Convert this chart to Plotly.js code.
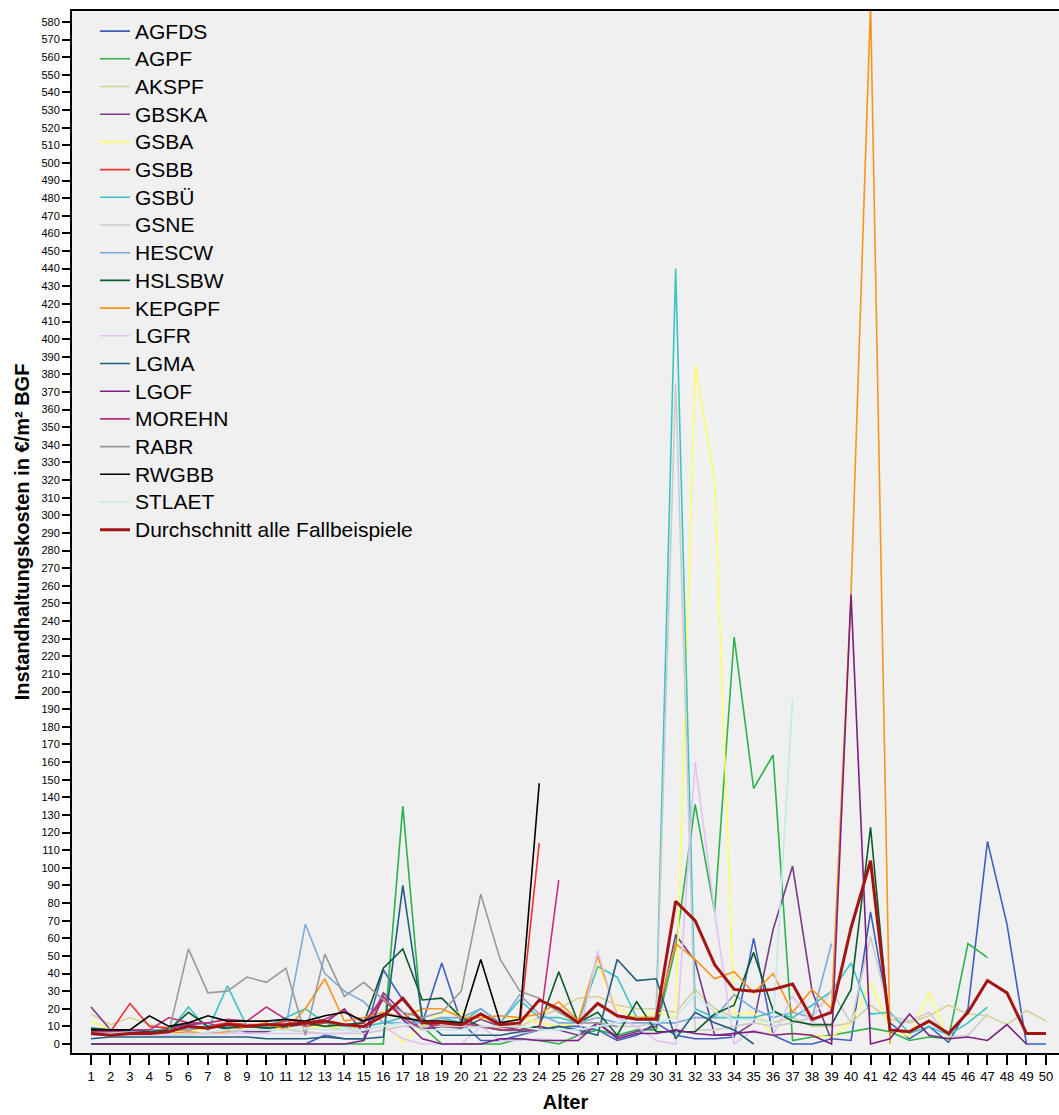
<!DOCTYPE html>
<html>
<head>
<meta charset="utf-8">
<script src="https://cdn.plot.ly/plotly-3.0.1.min.js"></script>
<style>html,body{margin:0;padding:0;background:#fff;}#chart{width:1059px;height:1115px;}</style>
</head>
<body>
<div id="chart"></div>
<script>
const ages = [1,2,3,4,5,6,7,8,9,10,11,12,13,14,15,16,17,18,19,20,21,22,23,24,25,26,27,28,29,30,31,32,33,34,35,36,37,38,39,40,41,42,43,44,45,46,47,48,49,50];
const tickLabelsX = ages.map(String);

const AGFDS = [0,0,0,0,0,0,0,0,0,0,0,0,5,3,3,42,25,12,46,12,2,2,5,8,10,10,8,2,5,12,5,3,3,4,60,5,0,0,3,2,75,12,3,10,1,20,115,68,0,0];
const AGPF = [0,0,0,0,0,0,0,0,0,0,0,0,0,0,0,0,135,10,0,0,0,0,3,2,0,5,8,5,8,8,55,136,75,231,145,164,2,4,5,7,9,7,2,4,3,57,49,null,null,null];
const AKSPF = [17,11,15,11,9,9,10,12,10,10,9,12,10,8,10,12,12,10,14,12,10,9,10,15,20,26,27,22,20,20,18,31,20,15,15,12,15,10,10,12,22,14,12,16,22,17,16,11,19,13];
const GBSKA = [21,8,8,7,9,11,12,8,7,7,10,11,12,20,6,29,18,8,10,9,14,10,8,10,8,5,12,4,7,10,62,47,5,5,12,65,101,30,2,null,null,null,null,null,null,null,null,null,null,null];
const GSBA = [13,8,6,6,7,7,9,12,11,10,8,9,10,10,10,12,1,10,18,18,15,12,15,12,10,12,45,20,15,18,15,385,320,17,18,5,6,5,4,12,35,9,4,29,2,null,null,null,null,null];
const GSBB = [7,7,23,10,9,8,10,12,11,11,13,10,12,10,12,25,15,12,10,10,17,10,10,114,null,null,null,null,null,null,null,null,null,null,null,null,null,null,null,null,null,null,null,null,null,null,null,null,null,null];
const GSBUE = [5,5,6,6,7,21,8,33,10,10,15,20,12,10,10,12,15,12,15,12,20,12,25,15,15,12,44,38,15,15,440,20,15,15,15,18,15,22,30,46,17,18,6,10,5,12,21,null,null,null];
const GSNE = [5,5,5,5,5,5,6,6,8,8,8,7,6,6,6,8,10,10,10,10,10,8,6,8,10,8,10,10,10,12,375,8,8,10,12,10,12,15,30,12,61,16,13,18,4,5,17,null,null,null];
const HESCW = [8,7,7,8,8,8,10,10,10,9,10,68,40,30,24,12,12,12,15,15,20,12,28,17,12,12,15,12,12,12,12,15,15,28,20,15,18,15,57,null,null,null,null,null,null,null,null,null,null,null];
const HSLSBW = [9,8,8,7,8,18,10,9,10,9,10,12,10,11,12,43,54,25,26,15,10,8,8,10,41,12,18,5,24,7,7,7,17,22,52,19,13,11,11,31,123,5,null,null,null,null,null,null,null,null];
const KEPGPF = [5,5,6,6,6,7,6,7,10,12,8,20,37,13,15,18,15,20,20,15,15,16,15,17,24,13,50,16,15,15,57,48,37,41,29,40,18,31,20,256,590,0,null,null,null,null,null,null,null,null];
const LGFR = [5,5,5,5,5,6,6,6,6,6,6,6,6,6,8,10,3,0,0,0,10,2,2,3,2,2,53,15,10,2,0,160,75,0,8,5,27,12,20,null,null,null,null,null,null,null,null,null,null,null];
const LGMA = [3,4,4,4,4,4,4,4,4,3,3,3,4,3,3,4,90,15,5,5,5,5,7,8,10,8,5,48,36,37,3,18,12,8,0,null,null,null,null,null,null,null,null,null,null,null,null,null,null,null];
const LGOF = [0,0,0,0,0,0,0,0,0,0,0,0,0,0,2,27,14,3,0,0,0,3,3,2,2,2,12,3,6,6,8,6,5,6,7,5,6,5,0,255,0,3,17,5,3,4,2,11,0,null];
const MOREHN = [7,7,8,8,15,12,12,14,13,21,14,12,14,19,12,27,15,8,12,12,10,8,8,8,93,null,null,null,null,null,null,null,null,null,null,null,null,null,null,null,null,null,null,null,null,null,null,null,null,null];
const RABR = [6,6,6,6,7,54,29,30,38,35,43,5,51,27,35,25,18,15,18,30,85,48,30,26,18,12,12,10,null,null,null,null,null,null,null,null,null,null,null,null,null,null,null,null,null,null,null,null,null,null];
const RWGBB = [8,8,8,16,10,12,16,13,13,13,14,13,16,18,13,17,15,13,13,12,48,12,14,148,null,null,null,null,null,null,null,null,null,null,null,null,null,null,null,null,null,null,null,null,null,null,null,null,null,null];
const STLAET = [6,6,6,6,6,5,7,8,8,8,8,9,8,8,8,10,12,8,8,8,10,10,10,8,8,8,10,12,15,12,15,28,18,14,14,12,196,null,null,null,null,null,null,null,null,null,null,null,null,null];
const AVG = [6,5,6,6,7,10,9,11,10,11,11,12,13,11,10,16,26,12,12,11,17,11,12,25,20,12,23,16,14,14,81,70,45,31,30,31,34,14,18,66,104,8,7,13,6,18,36,29,6,6];

const seriesNames = ["AGFDS","AGPF","AKSPF","GBSKA","GSBA","GSBB","GSBÜ","GSNE","HESCW","HSLSBW","KEPGPF","LGFR","LGMA","LGOF","MOREHN","RABR","RWGBB","STLAET","Durchschnitt alle Fallbeispiele"];
const seriesData = [AGFDS,AGPF,AKSPF,GBSKA,GSBA,GSBB,GSBUE,GSNE,HESCW,HSLSBW,KEPGPF,LGFR,LGMA,LGOF,MOREHN,RABR,RWGBB,STLAET,AVG];
const colors = ["#3f5fbf","#2bb34a","#d6d19c","#7a3a8a","#ffff66","#ee3333","#3cc4c4","#cccccc","#7faad9","#0c5a2c","#f7941d","#e0c4f2","#1f5f7c","#7d1f80","#c0307e","#999999","#000000","#c4e9e9","#a31414"];

const traces = seriesNames.map((n, i) => ({
  x: ages, y: seriesData[i], name: '<span style="font-size:21px">' + n + '</span>',
  type: "scatter", mode: "lines",
  line: {color: colors[i], width: i === 18 ? 3 : 1.6},
  connectgaps: false, hoverinfo: "skip"
}));

const fontFam = "Liberation Sans, Arial, sans-serif";
const yticks = [];
for (let v = 0; v <= 580; v += 10) yticks.push(v);

const layout = {
  width: 1059, height: 1115,
  margin: {l: 72, r: 0, t: 11, b: 62},
  paper_bgcolor: "#ffffff", plot_bgcolor: "#f0f0f0",
  font: {family: fontFam, color: "#000"},
  showlegend: true,
  legend: {x: 0.0233, y: 0.9988, xanchor: "left", yanchor: "top", bgcolor: "rgba(0,0,0,0)",
    font: {size: 19, family: fontFam}, itemwidth: 30},
  xaxis: {range: [0.025, 50.67], tickmode: "array", tickvals: ages, ticktext: tickLabelsX,
    ticks: "outside", ticklen: 10, tickwidth: 2, tickcolor: "#000", showgrid: false, zeroline: false,
    showline: true, linecolor: "#000", linewidth: 2, mirror: true,
    tickfont: {size: 13, family: fontFam},
    title: {text: "Alter", font: {size: 20, family: fontFam, weight: "bold"}, standoff: 12}},
  yaxis: {range: [-5.1, 586.2], tickmode: "array", tickvals: yticks, ticktext: yticks.map(String),
    ticks: "outside", ticklen: 8, tickwidth: 2, tickcolor: "#000", showgrid: false, zeroline: false,
    showline: true, linecolor: "#000", linewidth: 2,
    tickfont: {size: 11, family: fontFam},
    title: {text: "Instandhaltungskosten in €/m² BGF", font: {size: 20, family: fontFam, weight: "bold"}, standoff: 6}}
};

Plotly.newPlot("chart", traces, layout, {displayModeBar: false, staticPlot: true});
</script>
</body>
</html>
